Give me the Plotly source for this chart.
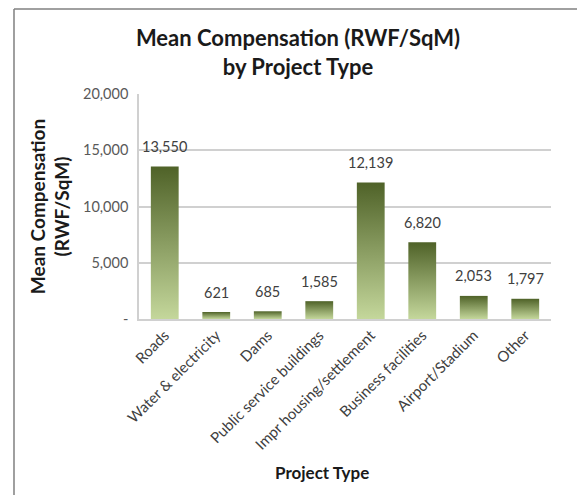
import plotly.graph_objects as go

categories = ["Roads", "Water & electricity", "Dams", "Public service buildings",
              "Impr housing/settlement", "Business facilities", "Airport/Stadium", "Other"]
values = [13550, 621, 685, 1585, 12139, 6820, 2053, 1797]
y_ticks = [0, 5000, 10000, 15000, 20000]
y_ticktext = ["-", "5,000", "10,000", "15,000", "20,000"]

DARK = "#4f6228"
LIGHT = "#c4d79b"
FONT = "Lato"
BAR_W = 0.54

fig = go.Figure()

# gradient bars (scatter fill, dark at top, light at bottom)
for i, v in enumerate(values):
    x0, x1 = i - BAR_W / 2, i + BAR_W / 2
    fig.add_trace(go.Scatter(
        x=[x0, x1, x1, x0, x0],
        y=[0, 0, v, v, 0],
        mode="lines",
        fill="toself",
        line=dict(width=0, color="rgba(0,0,0,0)"),
        fillgradient=dict(type="vertical", colorscale=[[0, LIGHT], [1, DARK]]),
        hoverinfo="skip",
        showlegend=False,
    ))

# data labels
for i, v in enumerate(values):
    fig.add_annotation(x=i, y=v, text=f"{v:,}", showarrow=False,
                       yanchor="middle", yshift=20,
                       font=dict(family=FONT, size=14.5, color="#404040"))

fig.add_annotation(xref="paper", yref="paper", x=0.444, y=-0.737,
                   text="<b>Project Type</b>", showarrow=False,
                   font=dict(family=FONT, size=17, color="#1a1a1a"))

# chart frame (top + left edge)
fig.add_shape(type="line", xref="paper", yref="paper",
              x0=-0.3034, x1=1.2, y0=1.378, y1=1.378,
              line=dict(color="#808080", width=1.5))
fig.add_shape(type="line", xref="paper", yref="paper",
              x0=-0.3034, x1=-0.3034, y0=1.378, y1=-0.9,
              line=dict(color="#808080", width=1.5))

# page body has an 8px margin, so the figure is shifted up/left by 8px
fig.update_layout(
    width=585, height=495,
    paper_bgcolor="white",
    plot_bgcolor="white",
    margin=dict(t=86, l=131, r=42, b=184),
    title=dict(text="<b>Mean Compensation (RWF/SqM)<br>by Project Type</b>",
               x=290 / 585, xanchor="center", y=1 - 38 / 495, yanchor="middle",
               font=dict(family=FONT, size=22, color="#1a1a1a")),
    xaxis=dict(
        range=[-0.5, len(categories) - 0.5],
        tickmode="array", tickvals=list(range(len(categories))), ticktext=categories,
        tickangle=-45, tickfont=dict(family=FONT, size=15, color="#404040"),
        showgrid=False, zeroline=False,
        showline=True, linecolor="#d0d0d0", linewidth=1.5,
        ticks="",
    ),
    yaxis=dict(
        range=[0, 20000],
        tickmode="array", tickvals=y_ticks, ticktext=y_ticktext,
        tickfont=dict(family=FONT, size=14.5, color="#595959"),
        showgrid=True, gridcolor="#d0d0d0", gridwidth=1.5,
        zeroline=False, showline=True, linecolor="#d0d0d0", linewidth=1.5,
        ticks="", ticklabelstandoff=6,
        title=dict(text="<b>Mean Compensation<br>(RWF/SqM)</b>", standoff=8,
                   font=dict(family=FONT, size=19, color="#1a1a1a")),
    ),
)

fig.write_html("out.html")
